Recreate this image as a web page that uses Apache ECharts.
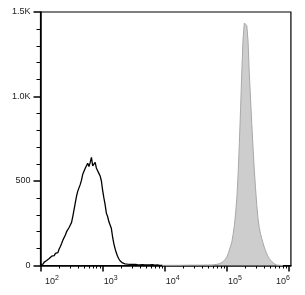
<!DOCTYPE html>
<html>
<head>
<meta charset="utf-8">
<script src="https://cdn.jsdelivr.net/npm/echarts@6/dist/echarts.min.js"></script>
<style>
html,body{margin:0;padding:0;background:#fff;}
#c{width:305px;height:295px;}
</style>
</head>
<body>
<div id="c"></div>
<script>
// X positions are log10 of fluorescence intensity
const openX = [2.00,2.02,2.04,2.06,2.08,2.10,2.12,2.14,2.16,2.18,2.20,2.22,2.24,2.26,2.28,2.30,2.32,2.34,2.36,2.38,2.40,2.42,2.44,2.46,2.48,2.50,2.52,2.54,2.56,2.58,2.60,2.62,2.64,2.66,2.68,2.70,2.72,2.74,2.76,2.78,2.80,2.82,2.84,2.86,2.88,2.90,2.92,2.94,2.96,2.98,3.00,3.02,3.04,3.06,3.08,3.10,3.12,3.14,3.16,3.18,3.20,3.22,3.24,3.26,3.28,3.30,3.32,3.34,3.36,3.38,3.40,3.44,3.48,3.52,3.56,3.60,3.64,3.68,3.72,3.76,3.80,3.84,3.88,3.92,3.96];
const openY = [5,12,8,20,15,30,26,42,38,55,60,58,72,80,76,98,112,130,150,145,180,200,192,225,240,255,290,330,370,410,440,430,480,505,540,550,575,590,605,585,610,640,590,580,610,575,580,545,530,500,445,400,360,310,290,260,240,220,170,130,100,75,55,40,28,20,15,12,10,9,8,7,6,7,5,4,5,3,4,3,5,2,3,1,0];

const filledX = [3.90,4.00,4.20,4.40,4.60,4.70,4.76,4.80,4.84,4.88,4.92,4.96,5.00,5.02,5.04,5.06,5.08,5.10,5.12,5.14,5.16,5.18,5.20,5.22,5.24,5.26,5.28,5.30,5.32,5.34,5.36,5.38,5.40,5.42,5.44,5.46,5.48,5.50,5.52,5.54,5.56,5.58,5.60,5.62,5.64,5.66,5.68,5.70,5.72,5.74,5.76,5.78,5.80,5.84,5.90];
const filledY = [0,1,1,2,2,3,3,5,7,11,18,30,50,70,92,115,140,185,235,310,400,540,720,930,1150,1340,1435,1440,1420,1330,1140,990,840,700,570,460,360,280,225,190,160,135,110,90,72,55,42,32,24,17,11,6,3,1,0];

const xMajorTicks = [2,3,4,5,6];
const xMinorTicks = [];
[2,3,4,5].forEach(d => { for (let k = 2; k <= 9; k++) xMinorTicks.push(d + Math.log10(k)); });
const yTickLabels = {0:'0',500:'500',1000:'1.0K',1500:'1.5K'};

const zip = (xs, ys) => xs.map((x, i) => [x, ys[i]]);
const font = 'Liberation Sans, Arial, sans-serif';

const chart = echarts.init(document.getElementById('c'), null, {renderer:'canvas'});
chart.setOption({
  animation: false,
  grid: {left: 40.5, right: 9, top: 12, bottom: 29.5, show: true, borderColor: '#000', borderWidth: 1.2, backgroundColor: 'transparent'},
  xAxis: [{
    type: 'value', min: 2, max: 6.03, position: 'bottom',
    splitLine: {show: false},
    axisLine: {show: true, onZero: false, lineStyle: {color: '#000', width: 1.5}},
    axisTick: {show: true, customValues: xMajorTicks, length: 6, lineStyle: {color: '#000', width: 1.5}},
    axisLabel: {
      show: true, customValues: xMajorTicks, margin: 9, color: '#222', fontFamily: font,
      formatter: v => {
        const e = Math.round(v);
        if (e === 2) return '{b2|10}{s|' + e + '}';
        if (e === 6) return '{b|10}{s6|' + e + '}';
        return '{b1|10}{s|' + e + '}';
      },
      rich: {
        b: {fontSize: 9, fontFamily: font, color: '#222', lineHeight: 12, verticalAlign: 'bottom'},
        b1: {fontSize: 9, fontFamily: font, color: '#222', lineHeight: 12, verticalAlign: 'bottom', padding: [0,0,0,16]},
        b2: {fontSize: 9, fontFamily: font, color: '#222', lineHeight: 12, verticalAlign: 'bottom', padding: [0,0,0,23]},
        s: {fontSize: 7, fontFamily: font, color: '#222', lineHeight: 12, verticalAlign: 'top'},
        s6: {fontSize: 7, fontFamily: font, color: '#222', lineHeight: 12, verticalAlign: 'top', padding: [0,12,0,0]}
      }
    }
  }, {
    type: 'value', min: 2, max: 6.03, position: 'bottom', gridIndex: 0,
    splitLine: {show: false},
    axisLine: {show: false},
    axisTick: {show: true, customValues: xMinorTicks, length: 3, lineStyle: {color: '#000', width: 1}},
    axisLabel: {show: false}
  }],
  yAxis: {
    type: 'value', min: 0, max: 1500, interval: 500,
    splitLine: {show: false},
    axisLine: {show: true, lineStyle: {color: '#000', width: 1.5}},
    axisTick: {show: true, length: 7, lineStyle: {color: '#000', width: 1.5}},
    minorTick: {show: true, splitNumber: 5, length: 4, lineStyle: {color: '#000', width: 1}},
    axisLabel: {margin: 10, fontSize: 9, fontFamily: font, color: '#222', formatter: v => yTickLabels[v]}
  },
  series: [{
    type: 'line', data: zip(filledX, filledY), showSymbol: false, symbol: 'none',
    lineStyle: {color: '#a8a8a8', width: 1},
    areaStyle: {color: '#cdcdcd', opacity: 1},
    z: 2
  }, {
    type: 'line', data: zip(openX, openY), showSymbol: false, symbol: 'none',
    lineStyle: {color: '#000', width: 1.3},
    z: 3
  }]
});
</script>
</body>
</html>
